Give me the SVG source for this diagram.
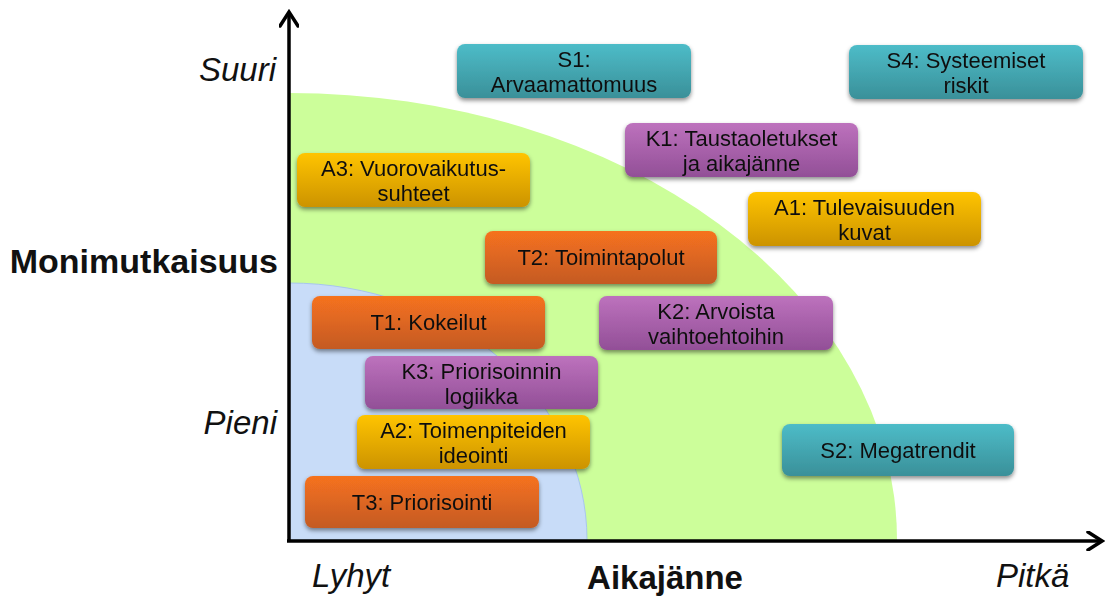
<svg xmlns="http://www.w3.org/2000/svg" width="1109" height="603" viewBox="0 0 1109 603">
  <defs>
    <linearGradient id="gTeal" x1="0" y1="0" x2="0" y2="1">
      <stop offset="0" stop-color="#4dbcc8"/>
      <stop offset="1" stop-color="#3a9099"/>
    </linearGradient>
    <linearGradient id="gPurple" x1="0" y1="0" x2="0" y2="1">
      <stop offset="0" stop-color="#bd72bd"/>
      <stop offset="1" stop-color="#924f97"/>
    </linearGradient>
    <linearGradient id="gAmber" x1="0" y1="0" x2="0" y2="1">
      <stop offset="0" stop-color="#ffc400"/>
      <stop offset="1" stop-color="#cc9300"/>
    </linearGradient>
    <linearGradient id="gOrange" x1="0" y1="0" x2="0" y2="1">
      <stop offset="0" stop-color="#f6721f"/>
      <stop offset="1" stop-color="#c45a22"/>
    </linearGradient>
    <filter id="shadow" x="-10%" y="-20%" width="120%" height="150%">
      <feDropShadow dx="0" dy="2.5" stdDeviation="2" flood-color="#000" flood-opacity="0.45"/>
    </filter>
    <marker id="chev" viewBox="0 0 20 20" refX="17" refY="10" markerWidth="20" markerHeight="20" markerUnits="userSpaceOnUse" orient="auto">
      <path d="M3,1 L17,10 L3,19" fill="none" stroke="#000" stroke-width="3.5" stroke-linecap="round" stroke-linejoin="miter"/>
    </marker>
  </defs>
  <style>
    .box { filter: url(#shadow); }
    .box rect { rx: 8px; ry: 8px; }
    .teal rect { fill: url(#gTeal); }
    .purple rect { fill: url(#gPurple); }
    .amber rect { fill: url(#gAmber); }
    .orange rect { fill: url(#gOrange); }
    .lbl { font-family: "Liberation Sans", Arial, sans-serif; font-size: 22px; fill: #111; text-anchor: middle; }
    .ax { font-family: "Liberation Sans", Arial, sans-serif; fill: #111; }
    .it { font-style: italic; font-size: 33px; }
    .bd { font-weight: bold; }
    .axis { fill: none; stroke: #000; stroke-width: 3.5; }
  </style>

  <rect width="1109" height="603" fill="#fff"/>

  <!-- zones: long-term / short-term quarter ellipses -->
  <g id="zones">
    <path id="zone-long" d="M289,540 L289,93 A608,447 0 0 1 897,540 Z" fill="#ccfe9a"/>
    <path id="zone-short" d="M289,540 L289,283 A298,257 0 0 1 587,540 Z" fill="#c8dcf8" stroke="#a8c6ee" stroke-width="1"/>
  </g>

  <!-- axes -->
  <g id="connectors">
    <line class="axis" x1="289" y1="541" x2="289" y2="12" marker-end="url(#chev)"/>
    <line class="axis" x1="287" y1="541" x2="1102" y2="541" marker-end="url(#chev)"/>
  </g>

  <!-- axis labels -->
  <g id="axis-labels">
    <text class="ax it" x="276" y="81" text-anchor="end">Suuri</text>
    <text class="ax it" x="277" y="434" text-anchor="end">Pieni</text>
    <text class="ax bd" x="278" y="273" font-size="34" text-anchor="end">Monimutkaisuus</text>
    <text class="ax it" x="312" y="587">Lyhyt</text>
    <text class="ax bd" x="665" y="589" font-size="33" text-anchor="middle">Aikajänne</text>
    <text class="ax it" x="996" y="587">Pitkä</text>
  </g>

  <!-- nodes -->
  <g id="S1" class="box teal">
    <rect x="457" y="44" width="234" height="54"/>
    <text class="lbl" x="574" y="67">S1:</text>
    <text class="lbl" x="574" y="92">Arvaamattomuus</text>
  </g>
  <g id="S4" class="box teal">
    <rect x="849" y="45" width="234" height="54"/>
    <text class="lbl" x="966" y="68">S4: Systeemiset</text>
    <text class="lbl" x="966" y="93">riskit</text>
  </g>
  <g id="K1" class="box purple">
    <rect x="625" y="123" width="233" height="54"/>
    <text class="lbl" x="741.5" y="146">K1: Taustaoletukset</text>
    <text class="lbl" x="741.5" y="171">ja aikajänne</text>
  </g>
  <g id="A3" class="box amber">
    <rect x="297" y="153" width="233" height="54"/>
    <text class="lbl" x="413.5" y="176">A3: Vuorovaikutus-</text>
    <text class="lbl" x="413.5" y="201">suhteet</text>
  </g>
  <g id="A1" class="box amber">
    <rect x="748" y="192" width="233" height="54"/>
    <text class="lbl" x="864.5" y="215">A1: Tulevaisuuden</text>
    <text class="lbl" x="864.5" y="240">kuvat</text>
  </g>
  <g id="T2" class="box orange">
    <rect x="485" y="231" width="232" height="53"/>
    <text class="lbl" x="601" y="265">T2: Toimintapolut</text>
  </g>
  <g id="T1" class="box orange">
    <rect x="312" y="296" width="233" height="53"/>
    <text class="lbl" x="428.5" y="330">T1: Kokeilut</text>
  </g>
  <g id="K2" class="box purple">
    <rect x="599" y="296" width="234" height="54"/>
    <text class="lbl" x="716" y="319">K2: Arvoista</text>
    <text class="lbl" x="716" y="344">vaihtoehtoihin</text>
  </g>
  <g id="K3" class="box purple">
    <rect x="365" y="356" width="233" height="53"/>
    <text class="lbl" x="481.5" y="379">K3: Priorisoinnin</text>
    <text class="lbl" x="481.5" y="404">logiikka</text>
  </g>
  <g id="A2" class="box amber">
    <rect x="357" y="415" width="233" height="54"/>
    <text class="lbl" x="473.5" y="438">A2: Toimenpiteiden</text>
    <text class="lbl" x="473.5" y="463">ideointi</text>
  </g>
  <g id="S2" class="box teal">
    <rect x="782" y="424" width="232" height="52"/>
    <text class="lbl" x="898" y="458">S2: Megatrendit</text>
  </g>
  <g id="T3" class="box orange">
    <rect x="305" y="476" width="234" height="52"/>
    <text class="lbl" x="422" y="510">T3: Priorisointi</text>
  </g>
</svg>
